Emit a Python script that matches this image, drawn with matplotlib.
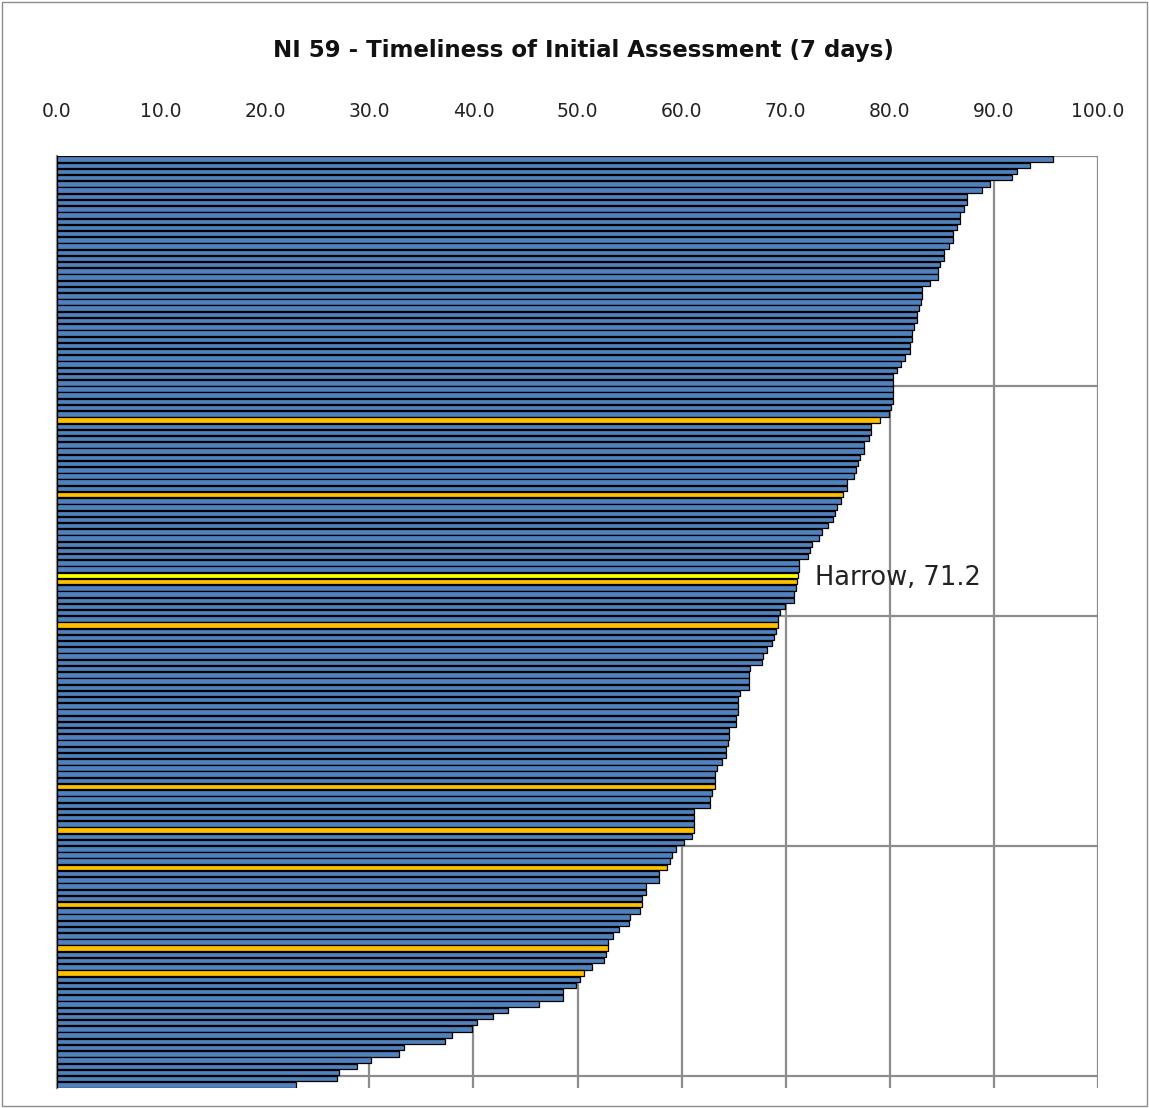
import matplotlib.pyplot as plt
import numpy as np

# values, top to bottom (150 authorities)
values = [
    95.7, 93.5, 92.2, 91.7, 89.6, 88.9, 87.4, 87.4, 87.1, 86.7, 86.7, 86.5,
    86.1, 86.1, 85.7, 85.2, 85.2, 84.8, 84.6, 84.6, 83.9, 83.1, 83.1, 83.0, 82.8,
    82.6, 82.6, 82.3, 82.1, 82.1, 81.9, 81.9, 81.5, 81.1, 80.7, 80.3, 80.3,
    80.3, 80.3, 80.3, 80.1, 79.9, 79.1, 78.2, 78.2, 78.0, 77.5, 77.5, 77.1,
    76.9, 76.8, 76.6, 75.9, 75.9, 75.5, 75.3, 74.9, 74.7, 74.5, 74.1, 73.5,
    73.2, 72.5, 72.3, 72.1, 71.3, 71.3, 71.2, 71.1, 71.0, 70.8, 70.8, 69.9,
    69.5, 69.3, 69.3, 69.1, 68.9, 68.7, 68.2, 67.8, 67.7, 66.6, 66.5, 66.5,
    66.5, 65.6, 65.4, 65.4, 65.4, 65.2, 65.2, 64.6, 64.6, 64.5, 64.3, 64.3,
    63.9, 63.4, 63.2, 63.2, 63.2, 62.9, 62.7, 62.7, 61.2, 61.2, 61.2, 61.2, 61.0,
    60.2, 59.5, 59.1, 58.9, 58.6, 57.8, 57.8, 56.6, 56.6, 56.2, 56.2, 56.0,
    55.0, 54.9, 54.0, 53.4, 52.9, 52.9, 52.7, 52.5, 51.4, 50.6, 50.2, 49.9,
    48.6, 48.6, 46.3, 43.3, 41.9, 40.3, 39.9, 37.9, 37.3, 33.3, 32.9, 30.2,
    28.8, 27.1, 26.9, 23.0,
]
# comparator authorities (orange) and Harrow (yellow), by position
comparator_idx = [42, 54, 68, 75, 101, 108, 114, 120, 127, 131]
harrow_idx = 67
harrow_label = "Harrow, 71.2"
xticks = np.arange(0, 101, 10)

colors = ['#4F81BD'] * len(values)
for i in comparator_idx:
    colors[i] = '#FFC000'
colors[harrow_idx] = '#FFFF00'

fig = plt.figure(figsize=(11.49, 11.08), dpi=100)
ax = fig.add_axes([57 / 1149, 1 - 1088 / 1108, (1098 - 57) / 1149, (1088 - 156) / 1108])

y = np.arange(len(values))
ax.barh(y, values, height=0.88, color=colors, edgecolor='black', linewidth=0.9, zorder=3)

ax.set_xlim(0, 100)
ax.set_ylim(len(values) - 0.5, -0.5)
ax.set_xticks(xticks)
ax.set_xticklabels([f'{v:.1f}' for v in xticks], fontsize=13.5, color='#222222')
ax.xaxis.tick_top()
ax.tick_params(axis='x', length=0, pad=25)
ax.set_yticks([])

# gridlines: vertical every 10, horizontal every 37 categories
for v in xticks:
    ax.axvline(v, color='#8C8C8C', linewidth=1.6, zorder=1)
for g in [-0.5, 36.5, 73.5, 110.5, 147.5]:
    ax.axhline(g, color='#8C8C8C', linewidth=1.6, zorder=1)

for s in ax.spines.values():
    s.set_visible(False)
ax.spines['left'].set_visible(True)
ax.spines['left'].set_color('#8C8C8C')
ax.spines['left'].set_linewidth(1.6)

ax.text(values[harrow_idx] + 1.6, harrow_idx + 0.4, harrow_label, fontsize=18.5,
        va='center', ha='left', color='#222222', zorder=4)

fig.text(583 / 1149, 1 - 50 / 1108, 'NI 59 - Timeliness of Initial Assessment (7 days)',
         fontsize=16.5, fontweight='bold', ha='center', va='center', color='#111111')

# chart border
fig.patches.append(plt.Rectangle((0.002, 0.002), 0.996, 0.996, transform=fig.transFigure,
                                 fill=False, edgecolor='#8C8C8C', linewidth=1))

fig.savefig('out.png', dpi=100)
